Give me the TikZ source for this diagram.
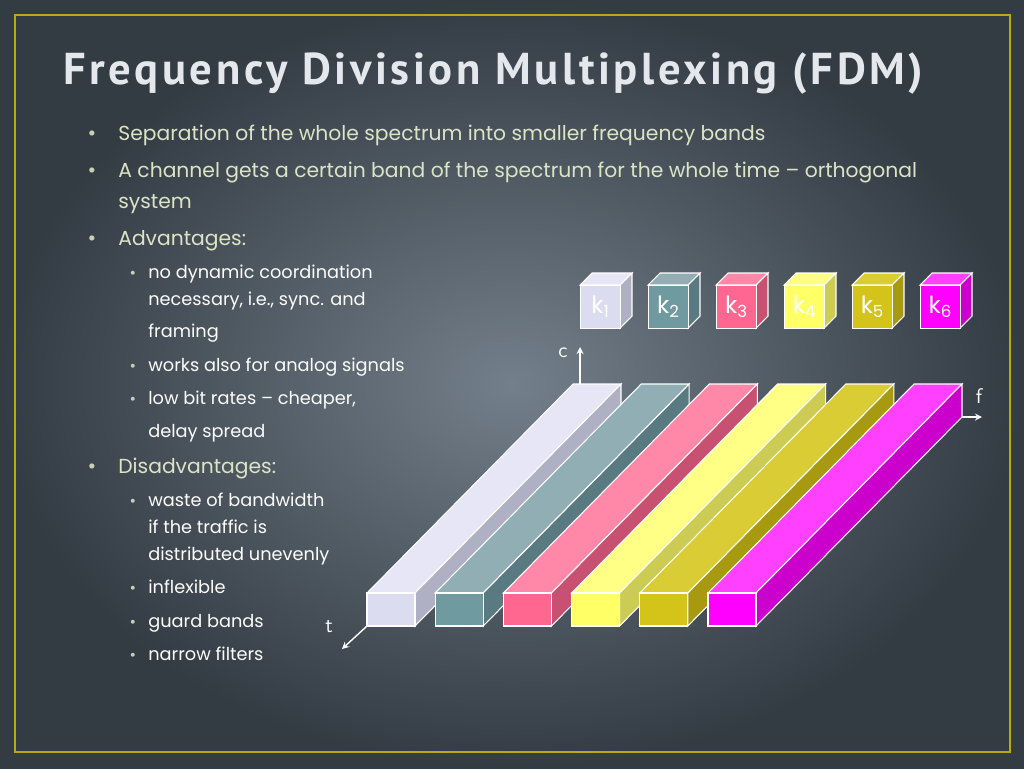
\documentclass[tikz,border=0pt]{standalone}
\usepackage{fontspec}
\setmainfont{Poppins}
\newfontfamily\titlefont[LetterSpace=8]{PT Sans}
\usetikzlibrary{positioning,calc}
\definecolor{bgin}{HTML}{737F8A}
\definecolor{bgout}{HTML}{333B43}
\definecolor{frameyel}{HTML}{B8AA10}
\definecolor{bodytxt}{HTML}{DCE4C6}
\definecolor{titletxt}{HTML}{E4E8EC}
\tikzstyle{body} = [anchor=base west, text=bodytxt, font=\fontsize{11.55}{14}\selectfont, inner sep=0pt]
\tikzstyle{sub} = [anchor=base west, text=white!92!bodytxt, font=\fontsize{10.1}{12}\selectfont, inner sep=0pt]
\tikzstyle{bul} = [anchor=base, text=bodytxt!80!gray, inner sep=0pt]
\tikzstyle{edge} = [draw=white, line width=0.6pt]
\tikzstyle{axis} = [white, line width=0.8pt, -stealth]
\tikzstyle{axlabel} = [text=white, font=\sffamily\fontsize{12}{13}\selectfont, inner sep=0pt]

\begin{document}
\begin{tikzpicture}[x=0.02cm,y=-0.02cm]
        \useasboundingbox (0,0) rectangle (1024,768);
        \shade[inner color=bgin, outer color=bgout] (0,0) rectangle (1024,768);
        \draw[frameyel, line width=1.2pt] (15,15) rectangle (1010,752);

        \node[anchor=base west, text=titletxt, font=\titlefont\bfseries\fontsize{25.4}{28}\selectfont, inner sep=0pt] (title) at (63,84) {Frequency Division Multiplexing (FDM)};

        % bullet list
        \foreach \y/\t in {140/{Separation of the whole spectrum into smaller frequency bands},
                177/{A channel gets a certain band of the spectrum for the whole time -- orthogonal},
                245/{Advantages:}, 473/{Disadvantages:}} {
            \node[bul, font=\fontsize{12}{14}\selectfont] at (92,\y) {\textbullet};
            \node[body] at (118,\y) {\t};
        }
        \node[body] (sys) at (118,208) {system};
        \foreach \y/\t/\b in {278/{no dynamic coordination}/1, 305/{necessary, i.e., sync. and}/0,
                337/{framing}/0, 371/{works also for analog signals}/1, 404/{low bit rates -- cheaper,}/1,
                437/{delay spread}/0, 506/{waste of bandwidth}/1, 533/{if the traffic is}/0,
                560/{distributed unevenly}/0, 593/{inflexible}/1, 627/{guard bands}/1, 660/{narrow filters}/1} {
            \ifnum\b=1 \node[bul, font=\fontsize{9}{10}\selectfont] at (133,\y) {\textbullet}; \fi
            \node[sub] at (148,\y) {\t};
        }

        % frequency bands
        \foreach \i/\cf/\ct/\cs in {0/DCDCF0/E6E6F6/B0B0C4, 1/6F9AA0/90AEB4/587A80,
                2/FF6690/FF88A8/C85070, 3/FFFF66/FFFF85/CCCC55, 4/D4C41A/DACC35/A89A10,
                5/FF00FF/FF40FF/CC00CC} {
            \definecolor{cf}{HTML}{\cf}\definecolor{ct}{HTML}{\ct}\definecolor{cs}{HTML}{\cs}
            \coordinate (p\i) at ({367+68.2*\i},593);
            \path[edge, fill=ct] (p\i) -- ++(206,-209) -- ++(48,0) -- ++(-206,209) -- cycle;
            \path[edge, fill=cs] ($(p\i)+(48,0)$) -- ++(206,-209) -- ++(0,33) -- ++(-206,209) -- cycle;
            \path[edge, fill=cf] (p\i) rectangle ++(48,33);
            % channel cube
            \coordinate (q\i) at ({580+68*\i},285);
            \path[edge, fill=ct] (q\i) -- ++(12,-12) -- ++(40,0) -- ++(-12,12) -- cycle;
            \path[edge, fill=cs] ($(q\i)+(40,0)$) -- ++(12,-12) -- ++(0,43) -- ++(-12,12) -- cycle;
            \node[edge, fill=cf, anchor=north west, minimum width=40*0.02cm, minimum height=43*0.02cm,
                inner sep=0pt, text=white, font=\fontsize{13.5}{14}\selectfont] (k\i) at (q\i)
                {k\textsubscript{\the\numexpr\i+1\relax}};
        }

        % axes
        \coordinate (o) at (580,384);
        \coordinate (cend) at (580,347);
        \coordinate (tstart) at (367,626);
        \coordinate (tend) at (342,649);
        \coordinate (fstart) at (962,417);
        \coordinate (fend) at (982,417);
        \draw[axis] (o) -- (cend);
        \draw[axis] (tstart) -- (tend);
        \draw[axis] (fstart) -- (fend);
        \node[axlabel] (clab) at (563,353) {c};
        \node[axlabel] (tlab) at (329,627) {t};
        \node[axlabel] (flab) at (979,396) {f};
\end{tikzpicture}
\end{document}
